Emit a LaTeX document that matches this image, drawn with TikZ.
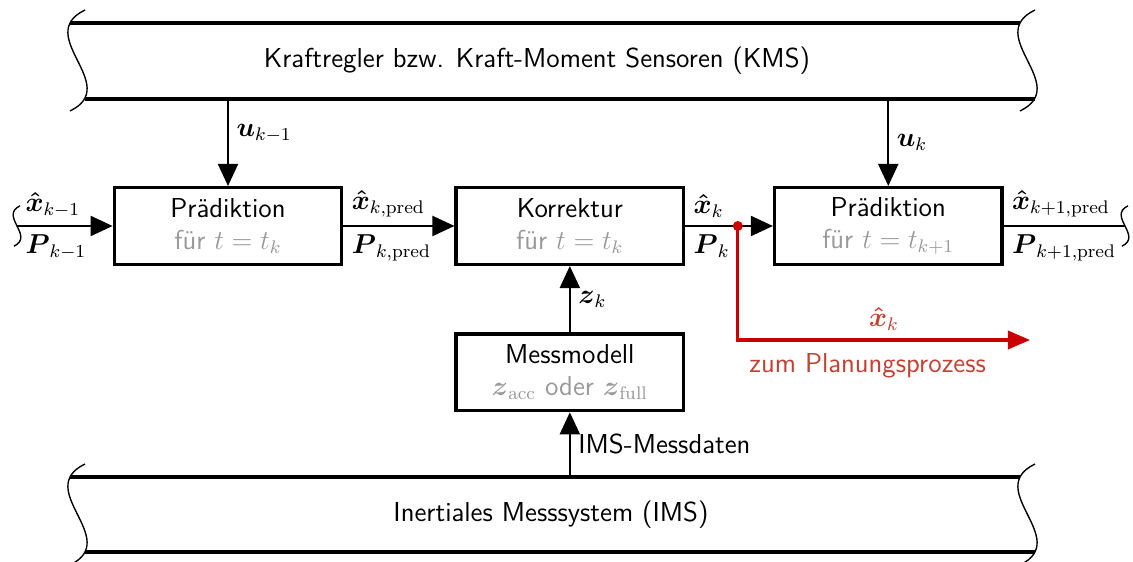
\documentclass[tikz,border=0pt]{standalone}
\usepackage{amsmath}
\usepackage{amssymb}
\usepackage{tikz}
\usetikzlibrary{positioning, arrows.meta, calc}
\definecolor{planred}{RGB}{204,0,0}
\definecolor{plantext}{RGB}{196,64,50}
\newcommand{\Est}[1]{\boldsymbol{\hat{x}}_{#1}}
\newcommand{\Cov}[1]{\boldsymbol{P}_{#1}}
\tikzset{
    cut/.pic = {
    \draw[semithick] (7.5,50.5) .. controls (-45,25) and (45,-25) .. (-7.5,-50.5);
    },
    block/.style={draw, line width=1.5pt, minimum width=3.5cm, minimum height=1.18cm, align=center, inner sep=2pt},
    band/.style={minimum height=1.17cm, inner sep=0},
    sig/.style={thick, -{Triangle[length=3.4mm, width=3.1mm]}},
}

\begin{document}
\begin{tikzpicture}[x=0.0154cm, y=0.0154cm, font=\sffamily\large]
    \useasboundingbox (0,0) rectangle (1133,-562);

    % KMS on top, IMS below
    \node[band] (kms) at (537,-61) {Kraftregler bzw. Kraft-Moment Sensoren (KMS)};
    \node[band] (ims) at (551,-514.5) {Inertiales Messsystem (IMS)};

    \draw[line width=1.5pt] (70,-23) -- (1020,-23) (85,-99) -- (1035,-99);
    \draw[line width=1.5pt] (70,-477) -- (1020,-477) (85,-552) -- (1035,-552);
    \path (77.5,-60.5) pic {cut} (1027.5,-60.5) pic {cut};
    \path (77.5,-514.5) pic {cut} (1027.5,-514.5) pic {cut};

    % filter blocks
    \node[block] (pred1) at (228,-226) {Prädiktion\\ \textcolor{black!40}{für $t=t_k$}};
    \node[block, right=1.71cm of pred1] (korr) {Korrektur\\ \textcolor{black!40}{für $t=t_k$}};
    \node[block, right=1.35cm of korr] (pred2) {Prädiktion\\ \textcolor{black!40}{für $t=t_{k+1}$}};
    \node[block, below=1.02cm of korr] (messm) {Messmodell\\ \textcolor{black!40}{$\boldsymbol{z}_\mathrm{acc}$ oder $\boldsymbol{z}_\mathrm{full}$}};

    \coordinate (in) at (17,-226);
    \coordinate (out) at (1125,-226);
    \coordinate (branch) at ($(korr.east)!0.6!(pred2.west)$);
    \coordinate (plan) at (1030,-340);

    \draw[sig] (in) -- node[pos=0, above right] {$\Est{k-1}$} node[pos=0, below right] {$\Cov{k-1}$} (pred1);
    \draw[sig] (pred1) -- node[pos=0, above right] {$\Est{k,\mathrm{pred}}$} node[pos=0, below right] {$\Cov{k,\mathrm{pred}}$} (korr);
    \draw[sig] (korr) -- node[pos=0, above right] {$\Est{k}$} node[pos=0, below right] {$\Cov{k}$} (pred2);
    \draw[thick] (pred2) -- node[pos=0, above right] {$\Est{k+1,\mathrm{pred}}$} node[pos=0, below right] {$\Cov{k+1,\mathrm{pred}}$} (out);
    \path (in) pic[scale=0.4] {cut} (out) pic[scale=0.4] {cut};

    \draw[sig] (pred1 |- kms.south) -- node[right, yshift=4pt] {$\boldsymbol{u}_{k-1}$} (pred1);
    \draw[sig] (pred2 |- kms.south) -- node[right] {$\boldsymbol{u}_{k}$} (pred2);
    \draw[sig] (messm) -- node[right] {$\boldsymbol{z}_k$} (korr);
    \draw[sig] (ims.north -| messm) -- node[right] {IMS-Messdaten} (messm);

    % estimate handed to the planner
    \draw[planred, line width=1.4pt, -{Triangle[length=3.4mm, width=2.8mm]}] (branch) |- node[pos=0.75, above, text=plantext] {$\Est{k}$} node[pos=0.75, below, text=plantext, xshift=-0.25cm, yshift=-2pt] {zum Planungsprozess} (plan);
    \fill[planred] (branch) circle (5);
\end{tikzpicture}
\end{document}
